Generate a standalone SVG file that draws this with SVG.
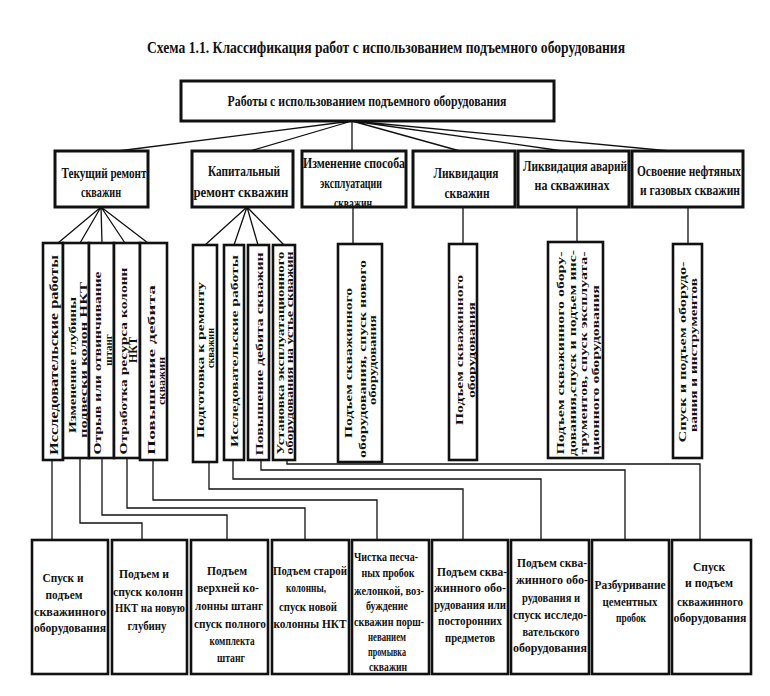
<svg xmlns="http://www.w3.org/2000/svg" width="770" height="696" viewBox="0 0 770 696">
<style>
.bx{fill:#fff;stroke:#111;stroke-width:2.6}
.bt{fill:#fff;stroke:#111;stroke-width:3}
.ln{fill:none;stroke:#111;stroke-width:1.3}
text{font-family:"Liberation Serif","DejaVu Serif",serif;fill:#111;font-weight:bold}
.h{font-size:16px;text-anchor:middle}
.r{font-size:14px;text-anchor:middle}
.b{font-size:13.5px;text-anchor:middle}
.s{font-size:12px;text-anchor:middle}
.v{font-size:11px;text-anchor:middle}
</style>
<rect width="770" height="696" fill="#fff"/>
<text x="386" y="53" class="h" textLength="478" lengthAdjust="spacingAndGlyphs">Схема 1.1. Классификация работ с использованием подъемного оборудования</text>

<g id="connectors">
<path class="ln" d="M352,121L118,151M352,121L250,151M352,121L352,151M352,121L460,151M352,121L563,151M352,121L670,151"/>
<path class="ln" d="M101,207L58,243M101,207L80,243M101,207L102,243M101,207L125,243M101,207L148,243"/>
<path class="ln" d="M247,207L205,245M247,207L234,245M247,207L258,245M247,207L284,245"/>
<path class="ln" d="M353,207V244M463,207V244M577,207V242M688,207V244"/>
<path class="ln" d="M52,460V540M80,458V523H142V540M102,458V515H227V540M127,458V508H305V540M153,460V500H377V540M209,462V489H463V540M233,460V479H541V540M261,460V470H625V540M287,460V464H700V540"/>
</g>

<g id="root"><rect class="bt" x="181" y="81" width="373" height="40"/>
<text x="367" y="106" class="r" textLength="279" lengthAdjust="spacingAndGlyphs">Работы с использованием подъемного оборудования</text></g>

<g id="n1"><rect class="bt" x="55" y="151" width="93" height="56"/>
<text x="104" y="178" class="r" textLength="85" lengthAdjust="spacingAndGlyphs">Текущий ремонт</text><text x="101" y="197" class="r" textLength="40" lengthAdjust="spacingAndGlyphs">скважин</text></g>
<g id="n2"><rect class="bt" x="192" y="151" width="101" height="56"/>
<text x="244" y="176" class="r" textLength="72" lengthAdjust="spacingAndGlyphs">Капитальный</text><text x="241" y="197" class="r" textLength="95" lengthAdjust="spacingAndGlyphs">ремонт скважин</text></g>
<g id="n3"><rect class="bt" x="302" y="151" width="104" height="56"/>
<text x="354" y="168" class="r" textLength="102" lengthAdjust="spacingAndGlyphs">Изменение способа</text><text x="351" y="188" class="r" textLength="62" lengthAdjust="spacingAndGlyphs">эксплуатации</text><text x="353" y="208" class="r" textLength="38" lengthAdjust="spacingAndGlyphs">скважин</text></g>
<g id="n4"><rect class="bt" x="413" y="151" width="102" height="56"/>
<text x="466" y="178" class="r" textLength="65" lengthAdjust="spacingAndGlyphs">Ликвидация</text><text x="467" y="198" class="r" textLength="45" lengthAdjust="spacingAndGlyphs">скважин</text></g>
<g id="n5"><rect class="bt" x="518" y="151" width="111" height="56"/>
<text x="575" y="171" class="r" textLength="104" lengthAdjust="spacingAndGlyphs">Ликвидация аварий</text><text x="572" y="190" class="r" textLength="75" lengthAdjust="spacingAndGlyphs">на  скважинах</text></g>
<g id="n6"><rect class="bt" x="632" y="151" width="111" height="56"/>
<text x="689" y="176" class="r" textLength="104" lengthAdjust="spacingAndGlyphs">Освоение нефтяных</text><text x="690" y="195" class="r" textLength="100" lengthAdjust="spacingAndGlyphs">и газовых скважин</text></g>

<g id="va"><rect class="bx" x="43" y="243" width="20" height="217"/>
<text class="v" transform="translate(58,355) rotate(-90)" textLength="200" lengthAdjust="spacingAndGlyphs" style="font-size:12px">Исследовательские работы</text></g>
<g id="vb"><rect class="bx" x="63" y="243" width="26" height="215"/>
<text class="v" transform="translate(76,365) rotate(-90)" textLength="136" lengthAdjust="spacingAndGlyphs">Изменение глубины</text>
<text class="v" transform="translate(87,360) rotate(-90)" textLength="156" lengthAdjust="spacingAndGlyphs">подвески колон НКТ</text></g>
<g id="vc"><rect class="bx" x="89" y="243" width="25" height="215"/>
<text class="v" transform="translate(101,363) rotate(-90)" textLength="183" lengthAdjust="spacingAndGlyphs">Отрыв или отвинчивание</text>
<text class="v" transform="translate(112,350) rotate(-90)">штанг</text></g>
<g id="vd"><rect class="bx" x="114" y="243" width="26" height="215"/>
<text class="v" transform="translate(127,361) rotate(-90)" textLength="187" lengthAdjust="spacingAndGlyphs">Отработка ресурса колонн</text>
<text class="v" transform="translate(137,350) rotate(-90)" style="font-size:12px">НКТ</text></g>
<g id="ve"><rect class="bx" x="140" y="243" width="27" height="217"/>
<text class="v" transform="translate(155,370) rotate(-90)" textLength="170" lengthAdjust="spacingAndGlyphs">Повышение дебита</text>
<text class="v" transform="translate(165,381) rotate(-90)" textLength="48" lengthAdjust="spacingAndGlyphs">скважин</text></g>

<g id="vf"><rect class="bx" x="193" y="245" width="24" height="217"/>
<text class="v" transform="translate(204,360) rotate(-90)" textLength="156" lengthAdjust="spacingAndGlyphs">Подготовка к ремонту</text>
<text class="v" transform="translate(214,348) rotate(-90)" textLength="40" lengthAdjust="spacingAndGlyphs">скважин</text></g>
<g id="vg"><rect class="bx" x="224" y="245" width="20" height="215"/>
<text class="v" transform="translate(238,351) rotate(-90)" textLength="192" lengthAdjust="spacingAndGlyphs">Исследовательские работы</text></g>
<g id="vh"><rect class="bx" x="248" y="245" width="21" height="215"/>
<text class="v" transform="translate(263,354) rotate(-90)" textLength="203" lengthAdjust="spacingAndGlyphs">Повышение дебита скважин</text></g>
<g id="vi"><rect class="bx" x="273" y="245" width="22" height="215"/>
<text class="v" transform="translate(284,353) rotate(-90)" textLength="203" lengthAdjust="spacingAndGlyphs" style="font-size:10px">Установка эксплуатационного</text>
<text class="v" transform="translate(293,353) rotate(-90)" textLength="203" lengthAdjust="spacingAndGlyphs" style="font-size:10px">оборудования на устье скважин</text></g>

<g id="vj"><rect class="bx" x="338" y="244" width="44" height="218"/>
<text class="v" transform="translate(352,363) rotate(-90)" textLength="150" lengthAdjust="spacingAndGlyphs">Подъем скважинного</text>
<text class="v" transform="translate(366,359) rotate(-90)" textLength="198" lengthAdjust="spacingAndGlyphs">оборудования, спуск нового</text>
<text class="v" transform="translate(376,360) rotate(-90)" textLength="90" lengthAdjust="spacingAndGlyphs">оборудования</text></g>
<g id="vk"><rect class="bx" x="449" y="244" width="28" height="216"/>
<text class="v" transform="translate(463,350) rotate(-90)" textLength="150" lengthAdjust="spacingAndGlyphs">Подъем скважинного</text>
<text class="v" transform="translate(475,350) rotate(-90)" textLength="96" lengthAdjust="spacingAndGlyphs">оборудования</text></g>
<g id="vl"><rect class="bx" x="548" y="242" width="55" height="216"/>
<text class="v" transform="translate(564,353) rotate(-90)" textLength="203" lengthAdjust="spacingAndGlyphs">Подъем скважинного обору-</text>
<text class="v" transform="translate(576,353) rotate(-90)" textLength="206" lengthAdjust="spacingAndGlyphs">дования,спуск и подъем инс-</text>
<text class="v" transform="translate(587,353) rotate(-90)" textLength="203" lengthAdjust="spacingAndGlyphs">трументов, спуск эксплуата-</text>
<text class="v" transform="translate(599,370) rotate(-90)" textLength="170" lengthAdjust="spacingAndGlyphs">ционного оборудования</text></g>
<g id="vm"><rect class="bx" x="673" y="244" width="29" height="214"/>
<text class="v" transform="translate(686,352) rotate(-90)" textLength="181" lengthAdjust="spacingAndGlyphs">Спуск и подъем оборудо-</text>
<text class="v" transform="translate(697,355) rotate(-90)" textLength="154" lengthAdjust="spacingAndGlyphs">вания и инструментов</text></g>

<g id="b1"><rect class="bx" x="32" y="540" width="76" height="134"/>
<text x="63" y="582" class="b" textLength="41" lengthAdjust="spacingAndGlyphs">Спуск и</text><text x="64" y="599" class="b" textLength="37" lengthAdjust="spacingAndGlyphs">подъем</text><text x="70" y="616" class="b" textLength="72" lengthAdjust="spacingAndGlyphs">скважинного</text><text x="70" y="632" class="b" textLength="72" lengthAdjust="spacingAndGlyphs">оборудования</text></g>
<g id="b2"><rect class="bx" x="112" y="540" width="75" height="134"/>
<text x="144" y="578" class="b" textLength="50" lengthAdjust="spacingAndGlyphs">Подъем и</text><text x="148" y="596" class="b" textLength="70" lengthAdjust="spacingAndGlyphs">спуск колонн</text><text x="150" y="612" class="b" textLength="70" lengthAdjust="spacingAndGlyphs">НКТ на новую</text><text x="147" y="630" class="b" textLength="39" lengthAdjust="spacingAndGlyphs">глубину</text></g>
<g id="b3"><rect class="bx" x="191" y="540" width="77" height="134"/>
<text x="227" y="575" class="b" textLength="40" lengthAdjust="spacingAndGlyphs">Подъем</text><text x="228" y="592" class="b" textLength="62" lengthAdjust="spacingAndGlyphs">верхней ко-</text><text x="229" y="610" class="b" textLength="68" lengthAdjust="spacingAndGlyphs">лонны штанг</text><text x="230" y="628" class="b" textLength="72" lengthAdjust="spacingAndGlyphs">спуск полного</text><text x="232" y="645" class="b" textLength="45" lengthAdjust="spacingAndGlyphs">комплекта</text><text x="231" y="662" class="b" textLength="28" lengthAdjust="spacingAndGlyphs">штанг</text></g>
<g id="b4"><rect class="bx" x="272" y="540" width="77" height="134"/>
<text x="310" y="575" class="b" textLength="74" lengthAdjust="spacingAndGlyphs">Подъем старой</text><text x="306" y="592" class="b" textLength="40" lengthAdjust="spacingAndGlyphs">колонны,</text><text x="308" y="611" class="b" textLength="58" lengthAdjust="spacingAndGlyphs">спуск новой</text><text x="310" y="628" class="b" textLength="73" lengthAdjust="spacingAndGlyphs">колонны НКТ</text></g>
<g id="b5"><rect class="bx" x="352" y="540" width="77" height="134"/>
<text x="386" y="561" class="s" textLength="64" lengthAdjust="spacingAndGlyphs">Чистка песча-</text><text x="388" y="577" class="s" textLength="53" lengthAdjust="spacingAndGlyphs">ных пробок</text><text x="389" y="595" class="s" textLength="70" lengthAdjust="spacingAndGlyphs">желонкой, воз-</text><text x="387" y="610" class="s" textLength="42" lengthAdjust="spacingAndGlyphs">буждение</text><text x="389" y="626" class="s" textLength="70" lengthAdjust="spacingAndGlyphs">скважин порш-</text><text x="387" y="641" class="s" textLength="38" lengthAdjust="spacingAndGlyphs">неванием</text><text x="387" y="656" class="s" textLength="38" lengthAdjust="spacingAndGlyphs">промывка</text><text x="388" y="671" class="s" textLength="38" lengthAdjust="spacingAndGlyphs">скважин</text></g>
<g id="b6"><rect class="bx" x="432" y="540" width="76" height="134"/>
<text x="472" y="576" class="b" textLength="70" lengthAdjust="spacingAndGlyphs">Подъем сква-</text><text x="470" y="592" class="b" textLength="72" lengthAdjust="spacingAndGlyphs">жинного обо-</text><text x="470" y="609" class="b" textLength="72" lengthAdjust="spacingAndGlyphs">рудования или</text><text x="470" y="625" class="b" textLength="64" lengthAdjust="spacingAndGlyphs">посторонних</text><text x="470" y="642" class="b" textLength="50" lengthAdjust="spacingAndGlyphs">предметов</text></g>
<g id="b7"><rect class="bx" x="511" y="540" width="78" height="134"/>
<text x="552" y="567" class="b" textLength="70" lengthAdjust="spacingAndGlyphs">Подъем сква-</text><text x="552" y="584" class="b" textLength="72" lengthAdjust="spacingAndGlyphs">жинного обо-</text><text x="551" y="602" class="b" textLength="58" lengthAdjust="spacingAndGlyphs">рудования и</text><text x="550" y="619" class="b" textLength="74" lengthAdjust="spacingAndGlyphs">спуск исследо-</text><text x="551" y="636" class="b" textLength="57" lengthAdjust="spacingAndGlyphs">вательского</text><text x="550" y="652" class="b" textLength="74" lengthAdjust="spacingAndGlyphs">оборудования</text></g>
<g id="b8"><rect class="bx" x="592" y="540" width="77" height="134"/>
<text x="630" y="589" class="b" textLength="71" lengthAdjust="spacingAndGlyphs">Разбуривание</text><text x="630" y="606" class="b" textLength="55" lengthAdjust="spacingAndGlyphs">цементных</text><text x="631" y="622" class="b" textLength="30" lengthAdjust="spacingAndGlyphs">пробок</text></g>
<g id="b9"><rect class="bx" x="672" y="540" width="79" height="134"/>
<text x="709" y="571" class="b" textLength="32" lengthAdjust="spacingAndGlyphs">Спуск</text><text x="709" y="587" class="b" textLength="48" lengthAdjust="spacingAndGlyphs">и подъем</text><text x="710" y="606" class="b" textLength="66" lengthAdjust="spacingAndGlyphs">скважинного</text><text x="710" y="622" class="b" textLength="73" lengthAdjust="spacingAndGlyphs">оборудования</text></g>
</svg>
